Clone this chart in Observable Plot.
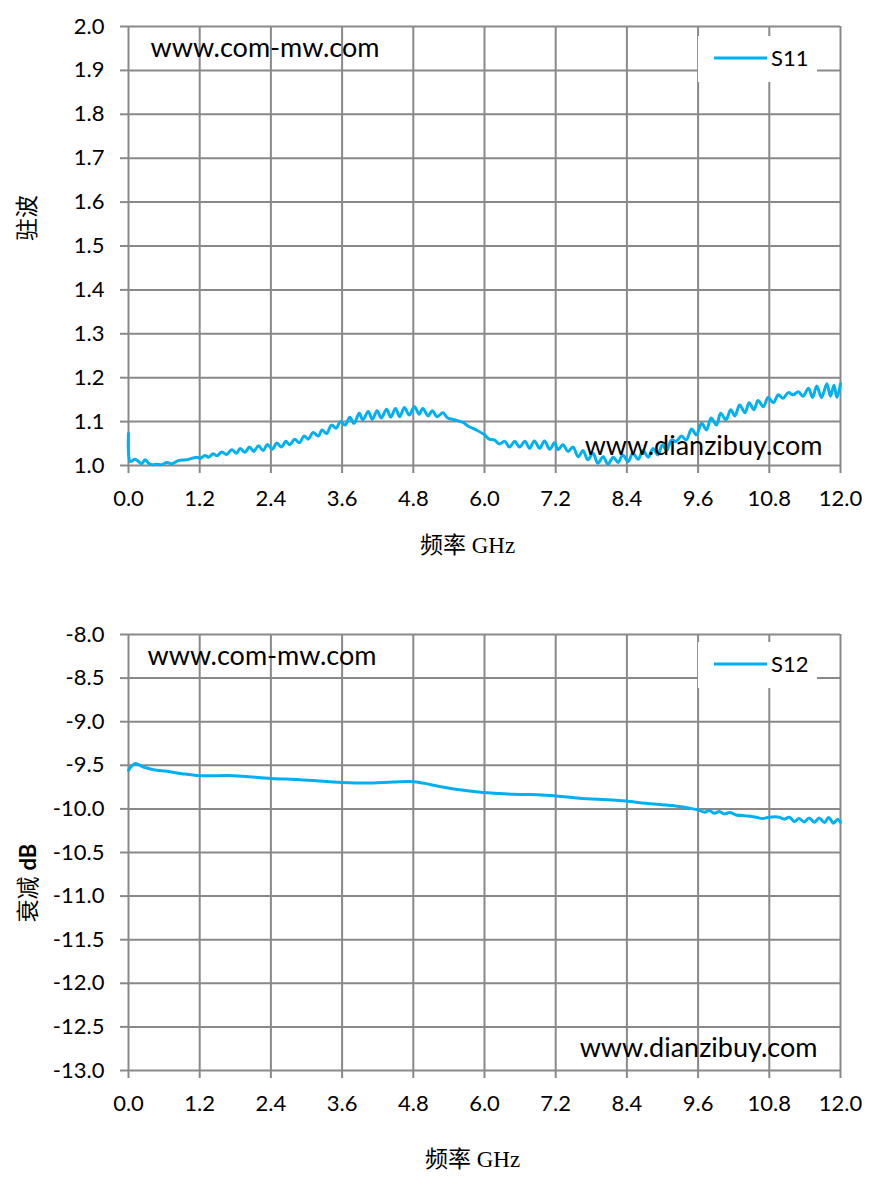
<!DOCTYPE html>
<html><head><meta charset="utf-8">
<script src="https://cdn.jsdelivr.net/npm/d3@7"></script>
<script src="https://cdn.jsdelivr.net/npm/@observablehq/plot@0.6"></script>
<style>
body{margin:0;background:#fff;}
#charts svg{display:block;}
</style></head><body><div id="charts"></div>
<script>
const xTicks = [0, 1.2, 2.4, 3.6, 4.8, 6.0, 7.2, 8.4, 9.6, 10.8, 12.0];
const s11Ticks = [1.0, 1.1, 1.2, 1.3, 1.4, 1.5, 1.6, 1.7, 1.8, 1.9, 2.0];
const s12Ticks = [-13.0, -12.5, -12.0, -11.5, -11.0, -10.5, -10.0, -9.5, -9.0, -8.5, -8.0];

const s11Freq = [0.00,0.03,0.11,0.17,0.22,0.28,0.34,0.39,0.48,0.56,0.65,0.73,0.84,0.98,1.09,1.15,1.21,1.29,1.35,1.43,1.49,1.57,1.65,1.74,1.82,1.88,1.96,2.04,2.11,2.19,2.27,2.34,2.42,2.50,2.58,2.65,2.72,2.80,2.88,2.96,3.03,3.11,3.20,3.26,3.34,3.42,3.50,3.57,3.65,3.73,3.80,3.89,3.95,4.04,4.11,4.19,4.26,4.35,4.42,4.50,4.57,4.65,4.73,4.82,4.90,4.96,5.05,5.12,5.20,5.30,5.38,5.47,5.55,5.64,5.72,5.86,
6.00,6.08,6.17,6.25,6.34,6.42,6.51,6.59,6.68,6.76,6.84,6.93,7.01,7.10,7.18,7.24,7.32,7.41,7.49,7.58,7.66,7.74,7.83,7.91,8.00,8.08,8.17,8.25,8.33,8.42,8.50,8.59,8.67,8.76,8.84,8.92,9.00,9.07,9.15,9.23,9.32,9.40,9.49,9.57,9.66,9.74,9.82,9.91,9.98,10.07,10.15,10.22,10.30,10.39,10.46,10.54,10.61,10.70,10.78,10.87,10.95,11.03,11.12,11.20,11.29,11.37,11.46,11.53,11.60,11.68,11.77,11.83,11.89,11.94,12.00];
const s11Value = [1.073,1.009,1.014,1.009,1.004,1.013,1.005,1.002,1.003,1.002,1.007,1.004,1.011,1.013,1.017,1.019,1.016,1.023,1.019,1.027,1.022,1.031,1.025,1.036,1.028,1.039,1.030,1.042,1.032,1.045,1.034,1.048,1.037,1.051,1.042,1.055,1.047,1.060,1.052,1.067,1.060,1.075,1.067,1.081,1.073,1.092,1.085,1.100,1.092,1.110,1.096,1.119,1.104,1.123,1.105,1.125,1.108,1.128,1.110,1.130,1.111,1.132,1.115,1.134,1.117,1.130,1.113,1.125,1.111,1.120,1.108,1.105,1.102,1.098,1.090,1.081,
1.070,1.060,1.058,1.049,1.055,1.042,1.055,1.042,1.055,1.039,1.056,1.039,1.056,1.037,1.052,1.036,1.047,1.032,1.042,1.020,1.034,1.013,1.028,1.005,1.020,1.003,1.019,1.007,1.024,1.009,1.028,1.014,1.034,1.019,1.039,1.024,1.047,1.034,1.058,1.055,1.067,1.058,1.083,1.070,1.096,1.081,1.108,1.092,1.119,1.104,1.127,1.113,1.138,1.120,1.143,1.127,1.148,1.134,1.155,1.143,1.161,1.153,1.166,1.161,1.168,1.158,1.176,1.155,1.181,1.155,1.186,1.158,1.183,1.155,1.186];

const s12Freq = [0.00,0.11,0.25,0.42,0.65,0.90,1.20,1.77,2.40,2.89,3.60,4.01,4.46,4.80,4.96,5.24,5.58,5.97,6.25,6.48,6.76,7.21,7.60,8.16,8.41,8.72,9.17,9.45,9.60,9.71,9.79,9.87,9.96,10.04,10.13,10.24,10.41,10.58,10.68,10.80,10.97,11.05,11.14,11.22,11.30,11.39,11.47,11.56,11.64,11.73,11.80,11.88,11.95,12.00];
const s12Value = [-9.558,-9.481,-9.519,-9.550,-9.569,-9.596,-9.619,-9.619,-9.650,-9.665,-9.696,-9.704,-9.692,-9.688,-9.704,-9.742,-9.781,-9.812,-9.823,-9.832,-9.836,-9.851,-9.878,-9.897,-9.912,-9.935,-9.962,-9.992,-10.011,-10.038,-10.019,-10.050,-10.031,-10.057,-10.042,-10.069,-10.080,-10.095,-10.111,-10.095,-10.095,-10.118,-10.095,-10.145,-10.111,-10.149,-10.103,-10.153,-10.103,-10.156,-10.099,-10.164,-10.118,-10.153];

const LINE = "#00B0F0", GRID = "#898989";
const NUMFONT = "Lato, 'Open Sans', sans-serif";
const CJK = "'Liberation Serif', 'Noto Sans CJK SC', serif";
const CJKONLY = "'Noto Sans CJK SC', sans-serif";

function legendMark(label, lineDy) {
  return (index, scales, values, dims) => {
    const g = d3.create("svg:g");
    const R = dims.width - dims.marginRight, T = dims.marginTop;
    g.append("rect").attr("x", R - 142).attr("y", T + lineDy - 22).attr("width", 119).attr("height", 46).attr("fill", "white");
    g.append("line").attr("x1", R - 126).attr("x2", R - 73).attr("y1", T + lineDy).attr("y2", T + lineDy)
      .attr("stroke", LINE).attr("stroke-width", 3);
    g.append("text").attr("x", R - 69).attr("y", T + lineDy).attr("dy", "0.35em").attr("text-anchor", "start")
      .attr("font-family", NUMFONT).attr("font-size", 22).attr("fill", "black").text(label);
    return g.node();
  };
}

function chart(o) {
  const data = o.freq.map((f, i) => ({f, v: o.value[i]}));
  return Plot.plot({
    width: 879, height: o.height,
    marginLeft: 128, marginRight: 39, marginTop: o.marginTop, marginBottom: o.marginBottom,
    style: {fontFamily: NUMFONT, fontSize: "22px", background: "white", color: "black"},
    x: {domain: [0, 12]},
    y: {domain: o.yDomain},
    marks: [
      Plot.gridX(xTicks, {stroke: GRID, strokeOpacity: 1, strokeWidth: 2}),
      Plot.gridY(o.yTicks, {stroke: GRID, strokeOpacity: 1, strokeWidth: 2}),
      Plot.axisY(o.yTicks, {tickSize: 8, tickPadding: 16, stroke: GRID, strokeWidth: 2, fill: "black", label: null, tickFormat: d => d.toFixed(1)}),
      Plot.axisX(xTicks, {tickSize: 8, tickPadding: 17, stroke: GRID, strokeWidth: 2, fill: "black", label: null, tickFormat: d => d.toFixed(1)}),
      Plot.text(["www.com-mw.com"], {frameAnchor: "top-left", dx: o.wm1dx, dy: 22, textAnchor: "start", lineAnchor: "middle", fontSize: 27, fill: "black"}),
      Plot.line(data, {x: "f", y: "v", stroke: LINE, strokeWidth: 3, curve: "catmull-rom"}),
      Plot.text(["www.dianzibuy.com"], {frameAnchor: "bottom-right", dx: o.wm2dx, dy: o.wm2dy, textAnchor: "end", lineAnchor: "middle", fontSize: 27, fill: "black"}),
      legendMark(o.series, o.legendDy),
      ...o.yLabel,
      Plot.text(["频率 GHz"], {frameAnchor: "bottom", dx: o.xLabelDx, dy: o.xLabelDy, fontFamily: CJK, fontSize: 23, fill: "black"})
    ]
  });
}

const chartTop = chart({
  height: 590, marginTop: 26, marginBottom: 125,
  yDomain: [1, 2], yTicks: s11Ticks, freq: s11Freq, value: s11Value, series: "S11", legendDy: 32,
  wm1dx: 22, wm2dx: -18, wm2dy: -19, xLabelDx: -17, xLabelDy: 87,
  yLabel: [Plot.text(["驻波"], {frameAnchor: "left", dx: -101, dy: -5, rotate: -90, fontFamily: CJKONLY, fontSize: 23, fill: "black"})]
});
const chartBottom = chart({
  height: 598, marginTop: 44, marginBottom: 118,
  yDomain: [-13, -8], yTicks: s12Ticks, freq: s12Freq, value: s12Value, series: "S12", legendDy: 30,
  wm1dx: 19, wm2dx: -23, wm2dy: -22, xLabelDx: -12, xLabelDy: 96,
  yLabel: [
    Plot.text(["衰减"], {frameAnchor: "left", dx: -100, dy: 24, rotate: -90, textAnchor: "end", fontFamily: CJKONLY, fontSize: 23, fill: "black"}),
    Plot.text(["dB"], {frameAnchor: "left", dx: -100, dy: 18, rotate: -90, textAnchor: "start", fontFamily: NUMFONT, fontWeight: "bold", fontSize: 22, fill: "black"})
  ]
});
document.getElementById("charts").append(chartTop, chartBottom);
</script></body></html>
